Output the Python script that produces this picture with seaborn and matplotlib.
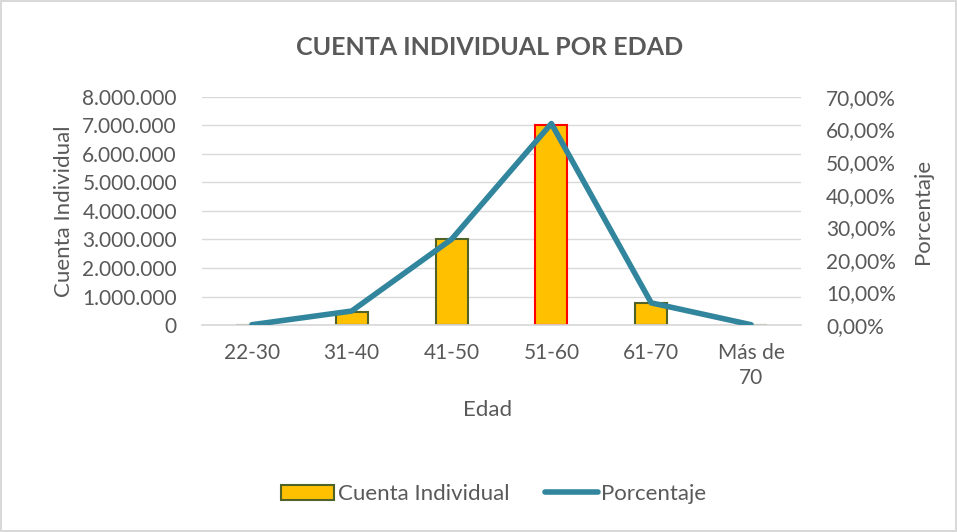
import numpy as np
import matplotlib
matplotlib.use("Agg")
import matplotlib.pyplot as plt
import seaborn as sns
from matplotlib.patches import Patch
from matplotlib.lines import Line2D
from matplotlib.ticker import FuncFormatter, MultipleLocator

categories = ["22-30", "31-40", "41-50", "51-60", "61-70", "Más de\n70"]
cuenta = [12000, 460000, 3000000, 7000000, 770000, 12000]
porcentaje = [0.1, 4.3, 26.3, 61.8, 6.8, 0.1]

sns.set_theme(style="white")
plt.rcParams['font.family'] = ['Lato', 'DejaVu Sans']

gray = "#595959"
bar_color = "#FFC000"
edge_colors = ["#4F6228", "#4F6228", "#4F6228", "#FF0000", "#4F6228", "#4F6228"]
line_color = "#31859C"

fig = plt.figure(figsize=(9.57, 5.32), dpi=100)
fig.patch.set_edgecolor("#D9D9D9")
fig.patch.set_linewidth(1.5)
ax = fig.add_axes([0.211, 0.389, 0.626, 0.429])

sns.barplot(x=list(range(len(categories))), y=cuenta, ax=ax, color=bar_color,
            width=0.32, saturation=1, native_scale=False)
for p, ec in zip(ax.patches, edge_colors):
    p.set_edgecolor(ec)
    p.set_linewidth(1.5)
    p.set_facecolor(bar_color)

ax.set_ylim(0, 8000000)
ax.set_xlim(-0.5, len(categories) - 0.5)
ax.yaxis.set_major_locator(MultipleLocator(1000000))
ax.yaxis.set_major_formatter(FuncFormatter(lambda v, _: f"{int(v):,}".replace(",", ".")))
ax.grid(axis="y", color="#D9D9D9", linewidth=1)
ax.set_axisbelow(True)
for s in ["top", "right", "left"]:
    ax.spines[s].set_visible(False)
ax.spines["bottom"].set_color("#D9D9D9")
ax.set_xticks(range(len(categories)))
ax.set_xticklabels(categories, fontsize=15, color=gray, linespacing=1.3, va="top")
ax.tick_params(axis="x", length=0, pad=13)
ax.tick_params(axis="y", length=0, labelsize=15, labelcolor=gray, pad=18)
ax.set_xlabel("Edad", fontsize=16, color=gray)
ax.xaxis.set_label_coords(0.477, -0.33)
ax.set_ylabel("Cuenta Individual", fontsize=16, color=gray, labelpad=6)

ax2 = ax.twinx()
sns.lineplot(x=list(range(len(categories))), y=porcentaje, ax=ax2, color=line_color,
             linewidth=4, sort=False)
ax2.set_ylim(0, 70)
ax2.yaxis.set_major_locator(MultipleLocator(10))
ax2.yaxis.set_major_formatter(FuncFormatter(lambda v, _: f"{v:.2f}%".replace(".", ",")))
for s in ["top", "right", "left", "bottom"]:
    ax2.spines[s].set_visible(False)
ax2.tick_params(axis="y", length=0, labelsize=15, labelcolor=gray, pad=18)
ax2.set_ylabel("Porcentaje", fontsize=16, color=gray, labelpad=12)

fig.text(0.512, 0.911, "CUENTA INDIVIDUAL POR EDAD", ha="center", va="center",
         fontsize=18, fontweight="bold", color=gray)

handles = [Patch(facecolor=bar_color, edgecolor="#4F6228", linewidth=1.5),
           Line2D([0], [0], color=line_color, linewidth=4)]
fig.legend(handles, ["Cuenta Individual", "Porcentaje"], loc="center",
           bbox_to_anchor=(0.516, 0.071), ncol=2, frameon=False, fontsize=16,
           labelcolor=gray, handlelength=2.4, handletextpad=0.15, columnspacing=1.6)

fig.savefig("out.png", dpi=100)
